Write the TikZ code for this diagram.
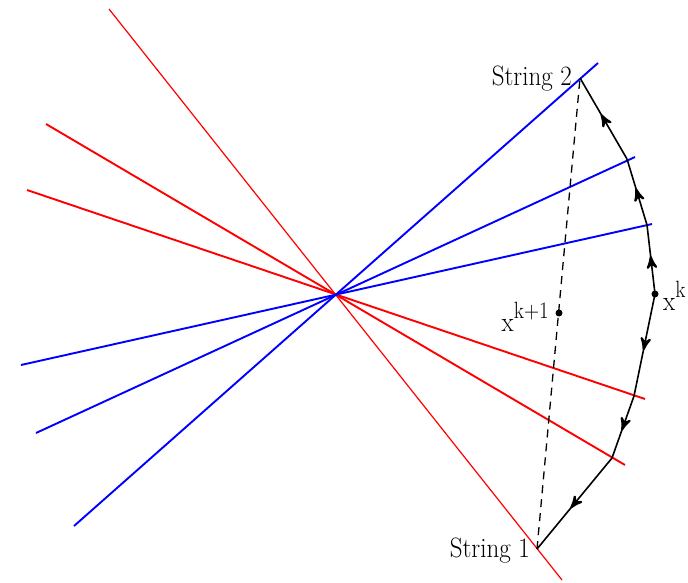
\documentclass[tikz,border=0pt]{standalone}
\usetikzlibrary{decorations.markings,arrows}
\begin{document}
\begin{tikzpicture}[x=1pt,y=-1pt,
  redthin/.style={red,line width=1.2pt},
  redline/.style={red,line width=1.9pt},
  blueline/.style={blue,line width=1.9pt},
  pathseg/.style={black,line width=1.6pt,
    postaction={decorate},
    decoration={markings,mark=at position 0.55 with {\arrow[line width=1pt,scale=2.2]{stealth'}}}},
  lbl/.style={inner sep=0pt,font=\fontsize{25}{30}\selectfont},
  dot/.style={circle,fill=black,inner sep=0pt,minimum size=7pt}]
\useasboundingbox (0,0) rectangle (688,583);
% red lines
\coordinate (r1a) at (109,9);   \coordinate (r1b) at (562,580);
\coordinate (r2a) at (46,124);  \coordinate (r2b) at (625,465);
\coordinate (r3a) at (27,190);  \coordinate (r3b) at (645,399);
% blue lines
\coordinate (b1a) at (74,526);  \coordinate (b1b) at (598,63);
\coordinate (b2a) at (36,433);  \coordinate (b2b) at (635,157);
\coordinate (b3a) at (21,365);  \coordinate (b3b) at (652,224);
\draw[redthin] (r1a) -- (r1b);
\draw[redline] (r2a) -- (r2b);
\draw[redline] (r3a) -- (r3b);
\draw[blueline] (b1a) -- (b1b);
\draw[blueline] (b2a) -- (b2b);
\draw[blueline] (b3a) -- (b3b);
% string points
\coordinate (S1) at (537,549);
\coordinate (P4) at (612,458);
\coordinate (P3) at (634,396);
\node[dot] (xk) at (655,294) {};
\coordinate (P2) at (647,225);
\coordinate (P1) at (627,159);
\coordinate (S2) at (580,78);
\draw[pathseg] (xk.center) -- (P2);
\draw[pathseg] (P2) -- (P1);
\draw[pathseg] (P1) -- (S2);
\draw[pathseg] (xk.center) -- (P3);
\draw[pathseg] (P3) -- (P4);
\draw[pathseg] (P4) -- (S1);
\draw[black,line width=1.3pt,dash pattern=on 8pt off 6pt] (S1) -- (S2);
\node[dot] (xk1) at (559,313) {};
\node[lbl,anchor=base east] (s1lbl) at (530,557) {\scalebox{1}[1.12]{String 1}};
\node[lbl,anchor=base east] (s2lbl) at (572,86) {\scalebox{1}[1.12]{String 2}};
\node[lbl,anchor=base east] (xk1lbl) at (549,331) {\scalebox{1}[1.12]{x\raisebox{0.45em}{\fontsize{21}{24}\selectfont k+1}}};
\node[lbl,anchor=base west] (xklbl) at (663,310) {\scalebox{1}[1.12]{x\raisebox{0.45em}{\fontsize{21}{24}\selectfont k}}};
\end{tikzpicture}
\end{document}
